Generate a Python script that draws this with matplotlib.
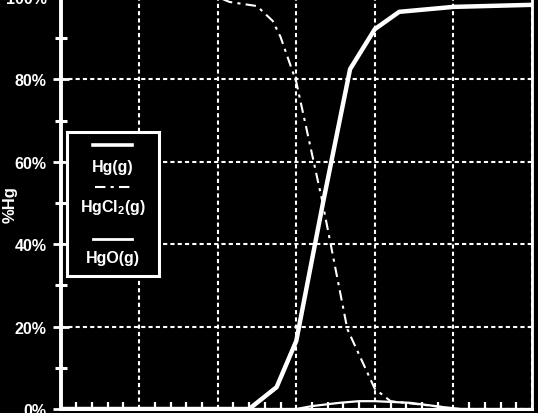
import matplotlib
matplotlib.use("Agg")
import matplotlib.pyplot as plt
from matplotlib import font_manager
from matplotlib.ticker import MultipleLocator, FixedLocator

# temperature axis (arbitrary units, 0-1200) and % of total Hg per species
hg_x = [0, 480, 550, 600, 668, 737, 800, 862, 1000, 1200]
hg_y = [0, 0, 5.3, 16.5, 50, 82.5, 92.2, 96.4, 97.6, 98.1]

hgcl2_x = [0, 400, 430, 500, 540, 560, 600, 665, 730, 800, 840, 970, 1000, 1200]
hgcl2_y = [100, 100, 98.8, 97.8, 94.2, 90.3, 79.4, 51, 19.4, 4.9, 1.9, 0.5, 0, 0]

hgo_x = [0, 600, 640, 710, 760, 800, 890, 970, 1020, 1200]
hgo_y = [0, 0, 0.7, 1.5, 1.9, 1.9, 1.5, 0.5, 0, 0]

y_ticks = [0, 20, 40, 60, 80, 100]
y_tick_labels = ["0%", "20%", "40%", "60%", "80%", "100%"]
legend_labels = ["Hg(g)", "HgCl$_2$(g)", "HgO(g)"]

W, H = 538, 414
installed = {f.name for f in font_manager.fontManager.ttflist}
plt.rcParams["font.family"] = ["Liberation Sans", "DejaVu Sans"]
plt.rcParams["mathtext.default"] = "regular"
narrow = "Liberation Sans Narrow" if "Liberation Sans Narrow" in installed else "Liberation Sans"

fig = plt.figure(figsize=(W / 100, H / 100), dpi=100, facecolor="black")

# main axes: 0% sits on y=410 px, 100% just above the top edge
ax = fig.add_axes([60.5 / W, 4 / H, 471.5 / W, 412 / H])
ax.set_facecolor("black")
ax.set_xlim(0, 1200)
ax.set_ylim(0, 100)

ax.grid(True, which="major", color="white", linestyle=(0, (2, 1.5)), linewidth=1.5, zorder=1)
ax.set_axisbelow(True)

ax.plot(hg_x, hg_y, color="white", linewidth=3.2, zorder=3)
ax.plot(hgcl2_x, hgcl2_y, color="white", linewidth=1.5,
        linestyle=(0, (5, 2.5, 1.5, 2.5)), zorder=3)
ax.plot(hgo_x, hgo_y, color="white", linewidth=1.6, zorder=3)

# axes and ticks
ax.xaxis.set_major_locator(MultipleLocator(200))
ax.xaxis.set_minor_locator(MultipleLocator(40))
ax.yaxis.set_major_locator(FixedLocator(y_ticks))
ax.set_yticklabels(y_tick_labels)
ax.yaxis.set_minor_locator(MultipleLocator(10))

ax.tick_params(axis="y", which="major", direction="inout", length=12, width=2,
               color="white", labelcolor="white", labelsize=11.5, pad=4.0)
ax.tick_params(axis="y", which="minor", direction="inout", length=8, width=2.2, color="white")
ax.tick_params(axis="x", which="both", direction="in", length=5, width=1.6,
               color="white", labelbottom=False)
ax.tick_params(axis="x", which="major", length=0)
for lab in ax.get_yticklabels():
    lab.set_fontweight("bold")

for side, lw in [("left", 2.8), ("bottom", 2.2), ("right", 2.0), ("top", 2.0)]:
    ax.spines[side].set_color("white")
    ax.spines[side].set_linewidth(lw)

fig.text(10 / W, 1 - 205 / H, "%Hg", rotation=90, ha="center", va="center",
         color="white", fontsize=12, fontweight="bold")

# legend box: line sample above each label
leg = fig.add_axes([67 / W, (H - 277) / H, 92 / W, 144 / H])
leg.set_facecolor("black")
leg.set_xlim(0, 1)
leg.set_ylim(0, 1)
leg.set_xticks([])
leg.set_yticks([])
for s in leg.spines.values():
    s.set_color("white")
    s.set_linewidth(2.2)

leg.plot([0.28, 0.71], [0.91, 0.91], color="white", linewidth=2.6)
leg.plot([0.30, 0.71], [0.618, 0.618], color="white", linewidth=1.5,
         linestyle=(0, (5, 2.5, 1.5, 2.5)))
leg.plot([0.28, 0.71], [0.257, 0.257], color="white", linewidth=2.0)

for yb, lab in zip([0.731, 0.449, 0.095], legend_labels):
    leg.text(0.5, yb, lab, ha="center", va="baseline", color="white",
             fontsize=11.5, fontweight="bold", family=[narrow, "DejaVu Sans"])

fig.savefig("out.png", dpi=100, facecolor="black")
